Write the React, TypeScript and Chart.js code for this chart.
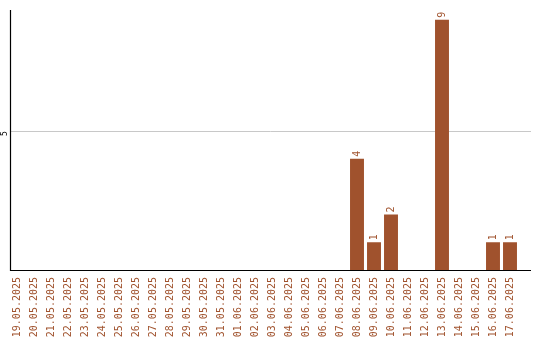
import React, { useEffect, useRef } from "react";
import { Chart, registerables } from "chart.js";

Chart.register(...registerables);

const dates: string[] = [
  "19.05.2025", "20.05.2025", "21.05.2025", "22.05.2025", "23.05.2025",
  "24.05.2025", "25.05.2025", "26.05.2025", "27.05.2025", "28.05.2025",
  "29.05.2025", "30.05.2025", "31.05.2025", "01.06.2025", "02.06.2025",
  "03.06.2025", "04.06.2025", "05.06.2025", "06.06.2025", "07.06.2025",
  "08.06.2025", "09.06.2025", "10.06.2025", "11.06.2025", "12.06.2025",
  "13.06.2025", "14.06.2025", "15.06.2025", "16.06.2025", "17.06.2025",
];

const counts: number[] = [
  0, 0, 0, 0, 0, 0, 0, 0, 0, 0,
  0, 0, 0, 0, 0, 0, 0, 0, 0, 0,
  4, 1, 2, 0, 0, 9, 0, 0, 1, 1,
];

const yTickValues: number[] = [5];
const yMax = 9.35;

const BROWN = "#a0522d";
const FONT = "'DejaVu Sans Mono', monospace";

// Frame: axis lines, the single grid line and its tick label,
// drawn a little wider than the bar band.
const AXIS_X = 10.5;
const AXIS_RIGHT = 531;

const frame = {
  id: "frame",
  beforeDatasetsDraw(chart: Chart) {
    const ctx = chart.ctx;
    const y = chart.scales.y;
    const { top, bottom } = chart.chartArea;
    ctx.save();
    ctx.lineWidth = 1;
    ctx.strokeStyle = "#c8c8c8";
    yTickValues.forEach((v) => {
      const py = Math.round(y.getPixelForValue(v)) + 0.5;
      ctx.beginPath();
      ctx.moveTo(AXIS_X, py);
      ctx.lineTo(AXIS_RIGHT, py);
      ctx.stroke();
      ctx.save();
      ctx.fillStyle = "#000";
      ctx.font = `8px ${FONT}`;
      ctx.textAlign = "center";
      ctx.textBaseline = "middle";
      ctx.translate(5, py + 2);
      ctx.rotate(-Math.PI / 2);
      ctx.fillText(String(v), 0, 0);
      ctx.restore();
    });
    ctx.strokeStyle = "#000";
    ctx.lineWidth = 1.2;
    ctx.beginPath();
    ctx.moveTo(AXIS_X, top);
    ctx.lineTo(AXIS_X, bottom + 0.5);
    ctx.lineTo(AXIS_RIGHT, bottom + 0.5);
    ctx.stroke();
    ctx.restore();
  },
};

// Draws each non-zero count above its bar, rotated to read upwards.
const valueLabels = {
  id: "valueLabels",
  afterDatasetsDraw(chart: Chart) {
    const ctx = chart.ctx;
    const meta = chart.getDatasetMeta(0);
    ctx.save();
    ctx.fillStyle = BROWN;
    ctx.font = `10px ${FONT}`;
    ctx.textAlign = "left";
    ctx.textBaseline = "middle";
    meta.data.forEach((bar: any, i: number) => {
      const v = counts[i];
      if (!v) return;
      ctx.save();
      ctx.translate(bar.x, bar.y - 2);
      ctx.rotate(-Math.PI / 2);
      ctx.fillText(String(v), 0, 0);
      ctx.restore();
    });
    ctx.restore();
  },
};

export default function App() {
  const ref = useRef<HTMLCanvasElement | null>(null);

  useEffect(() => {
    if (!ref.current) return;
    const chart = new Chart(ref.current, {
      type: "bar",
      data: {
        labels: dates,
        datasets: [
          {
            data: counts,
            backgroundColor: BROWN,
            borderWidth: 0,
            barPercentage: 0.82,
            categoryPercentage: 1,
          },
        ],
      },
      options: {
        animation: false,
        responsive: false,
        devicePixelRatio: 1,
        layout: { padding: { top: 10, right: 21.5, left: 0, bottom: 0 } },
        plugins: { legend: { display: false }, tooltip: { enabled: false } },
        scales: {
          x: {
            grid: { display: false, drawTicks: false },
            border: { display: false },
            ticks: {
              color: BROWN,
              font: { family: FONT, size: 10 },
              minRotation: 90,
              maxRotation: 90,
              autoSkip: false,
              padding: 7,
            },
            afterFit(scale: any) {
              scale.height = 70;
            },
          },
          y: {
            min: 0,
            max: yMax,
            afterBuildTicks(scale: any) {
              scale.ticks = yTickValues.map((value) => ({ value }));
            },
            grid: { display: false, drawTicks: false },
            border: { display: false },
            ticks: { display: false },
            afterFit(scale: any) {
              scale.width = 8.5;
            },
          },
        },
      },
      plugins: [frame, valueLabels],
    });
    return () => chart.destroy();
  }, []);

  return (
    <div style={{ position: "fixed", left: 0, top: 0, width: 540, height: 340, background: "#fff" }}>
      <canvas ref={ref} width={540} height={340} />
    </div>
  );
}
